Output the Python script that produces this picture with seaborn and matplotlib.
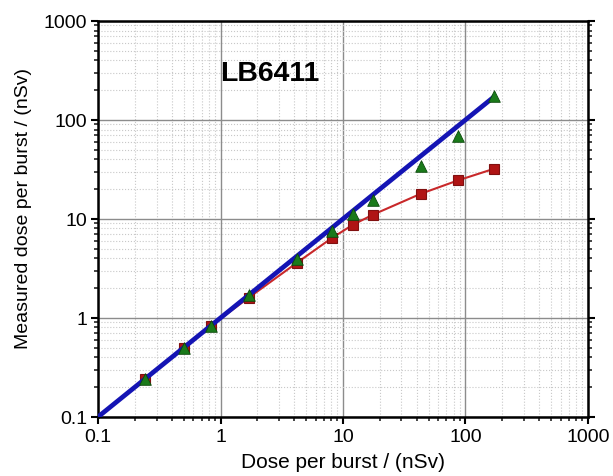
import matplotlib
matplotlib.use("Agg")
import matplotlib.pyplot as plt
import seaborn as sns
import pandas as pd
import numpy as np
from matplotlib.ticker import LogLocator, NullFormatter, FixedLocator, FixedFormatter

# Data
dose = [0.24, 0.5, 0.83, 1.7, 4.2, 8.1, 12, 17.5, 43, 87, 170]
measured_green = [0.24, 0.5, 0.83, 1.7, 3.9, 7.6, 11.2, 15.5, 34, 69, 175]
measured_red = [0.24, 0.5, 0.83, 1.6, 3.6, 6.4, 8.7, 11, 17.9, 24.5, 32]
ideal_x = [0.1, 170]
ideal_y = [0.1, 170]
tick_vals = [0.1, 1, 10, 100, 1000]
tick_labels = ["0.1", "1", "10", "100", "1000"]

sns.set_style("white")
plt.rcParams['font.family'] = ['Liberation Sans', 'DejaVu Sans']
plt.rcParams['text.color'] = 'black'
plt.rcParams['axes.labelcolor'] = 'black'

fig = plt.figure(figsize=(6.13, 4.77), dpi=100)
ax = fig.add_axes([0.160, 0.124, 0.799, 0.830])

df_red = pd.DataFrame({"x": dose, "y": measured_red})
df_green = pd.DataFrame({"x": dose, "y": measured_green})
df_ideal = pd.DataFrame({"x": ideal_x, "y": ideal_y})

ax.set_xscale("log")
ax.set_yscale("log")

sns.lineplot(data=df_red, x="x", y="y", ax=ax, color="#c8282a", lw=1.5,
             marker="s", markersize=6.5, markerfacecolor="#b01414",
             markeredgecolor="#801010", markeredgewidth=0.8, zorder=3)
sns.lineplot(data=df_ideal, x="x", y="y", ax=ax, color="#1414b4", lw=3.4, zorder=4)
sns.scatterplot(data=df_green, x="x", y="y", ax=ax, marker="^", s=70,
                color="#1a7a1a", edgecolor="#0c4a0c", linewidth=0.6, zorder=5)

ax.set_xlim(0.1, 1000)
ax.set_ylim(0.1, 1000)

for a in (ax.xaxis, ax.yaxis):
    a.set_major_locator(FixedLocator(tick_vals))
    a.set_major_formatter(FixedFormatter(tick_labels))
    a.set_minor_locator(LogLocator(base=10, subs=np.arange(2, 10)))
    a.set_minor_formatter(NullFormatter())

ax.grid(True, which="major", color="#8c8c8c", lw=1.0, ls="-")
ax.grid(True, which="minor", color="#c8c8c8", lw=0.8, ls=":")
ax.set_axisbelow(True)

for s in ax.spines.values():
    s.set_color("black")
    s.set_linewidth(1.8)

ax.tick_params(axis="both", which="major", direction="out", length=5, width=1.5,
               labelsize=14, colors="black", pad=3)
ax.tick_params(axis="both", which="minor", direction="out", length=3, width=1.2)
ax.tick_params(axis="y", which="both", right=True, left=True)
ax.tick_params(axis="x", which="both", bottom=True, top=False)

ax.set_xlabel("Dose per burst / (nSv)", fontsize=15, color="black")
ax.set_ylabel("Measured dose per burst / (nSv)", fontsize=14, color="black")
ax.xaxis.set_label_coords(0.5, -0.090)
ax.yaxis.set_label_coords(-0.135, 0.53)

ax.text(1.0, 300, "LB6411", fontsize=20.5, fontweight="bold", ha="left",
        va="center", color="black")

fig.savefig("out.png", dpi=100)
